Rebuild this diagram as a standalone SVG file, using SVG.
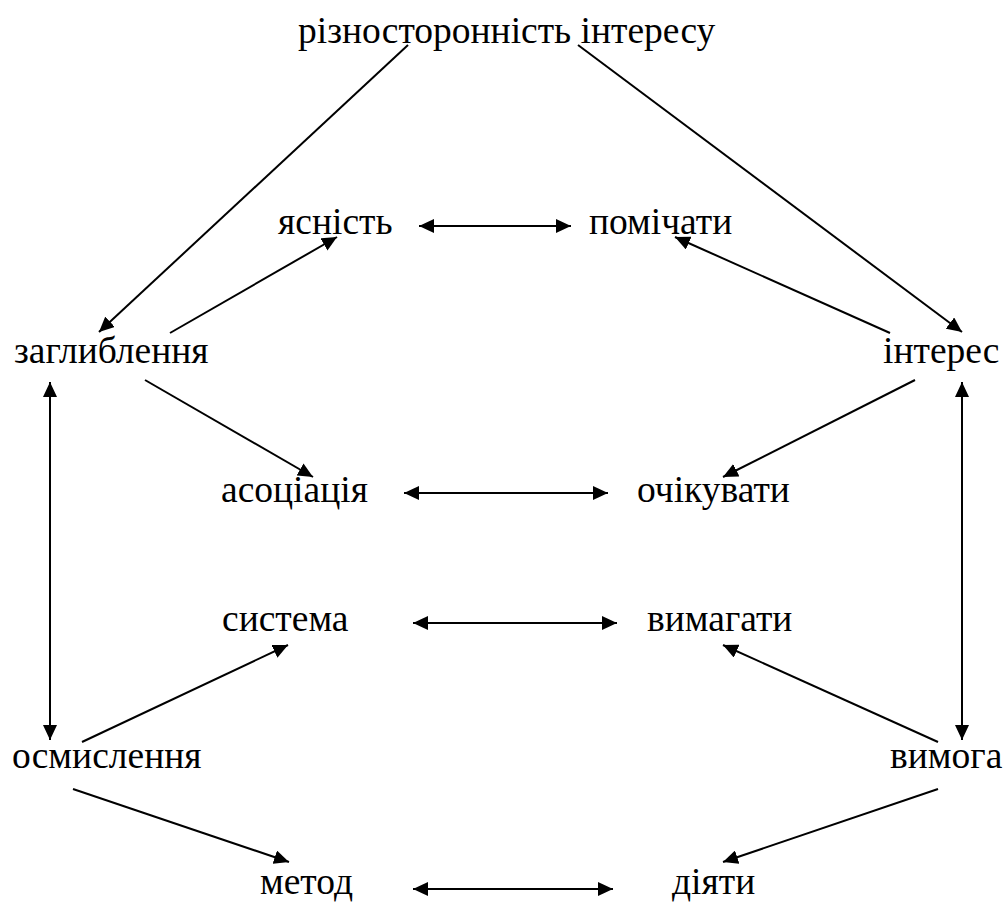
<svg xmlns="http://www.w3.org/2000/svg" width="1007" height="902" viewBox="0 0 1007 902">
<style>
text{font-family:"Liberation Serif","Times New Roman",serif;font-size:37.5px;fill:#000}
.c line{stroke:#000;stroke-width:2;fill:none}
</style>
<defs>
<marker id="ah" markerUnits="userSpaceOnUse" markerWidth="16" markerHeight="14" refX="15" refY="7" orient="auto-start-reverse" viewBox="0 0 16 14">
<path d="M0,0 L15,7 L0,14 Z" fill="#000"/>
</marker>
</defs>
<rect width="1007" height="902" fill="#fff"/>
<g class="c" id="connectors">
<line x1="408" y1="45" x2="99" y2="332" marker-end="url(#ah)"/>
<line x1="578" y1="45" x2="962" y2="332" marker-end="url(#ah)"/>
<line x1="170" y1="333" x2="337" y2="237" marker-end="url(#ah)"/>
<line x1="890" y1="333" x2="675" y2="237" marker-end="url(#ah)"/>
<line x1="419" y1="226" x2="571" y2="226" marker-start="url(#ah)" marker-end="url(#ah)"/>
<line x1="145" y1="380" x2="313" y2="477" marker-end="url(#ah)"/>
<line x1="915" y1="380" x2="723" y2="477" marker-end="url(#ah)"/>
<line x1="404" y1="493" x2="608" y2="493" marker-start="url(#ah)" marker-end="url(#ah)"/>
<line x1="50" y1="382" x2="50" y2="740" marker-start="url(#ah)" marker-end="url(#ah)"/>
<line x1="962" y1="382" x2="962" y2="740" marker-start="url(#ah)" marker-end="url(#ah)"/>
<line x1="413" y1="623" x2="617" y2="623" marker-start="url(#ah)" marker-end="url(#ah)"/>
<line x1="82" y1="742" x2="288" y2="645" marker-end="url(#ah)"/>
<line x1="938" y1="742" x2="723" y2="645" marker-end="url(#ah)"/>
<line x1="73" y1="789" x2="289" y2="862" marker-end="url(#ah)"/>
<line x1="938" y1="789" x2="723" y2="862" marker-end="url(#ah)"/>
<line x1="413" y1="889" x2="613" y2="889" marker-start="url(#ah)" marker-end="url(#ah)"/>
</g>
<g id="n-riznostoronnist"><text x="298" y="43">різносторонність інтересу</text></g>
<g id="n-yasnist"><text x="278" y="234">ясність</text></g>
<g id="n-pomichaty"><text x="589" y="234">помічати</text></g>
<g id="n-zaglyblennya"><text x="14" y="363">заглиблення</text></g>
<g id="n-interes"><text x="883" y="363">інтерес</text></g>
<g id="n-asotsiatsiya"><text x="221" y="502">асоціація</text></g>
<g id="n-ochikuvaty"><text x="637" y="502">очікувати</text></g>
<g id="n-systema"><text x="222" y="631">система</text></g>
<g id="n-vymahaty"><text x="647" y="631">вимагати</text></g>
<g id="n-osmyslennya"><text x="12" y="768">осмислення</text></g>
<g id="n-vymoha"><text x="890" y="768">вимога</text></g>
<g id="n-metod"><text x="260" y="894">метод</text></g>
<g id="n-diyaty"><text x="672" y="894">діяти</text></g>
</svg>
